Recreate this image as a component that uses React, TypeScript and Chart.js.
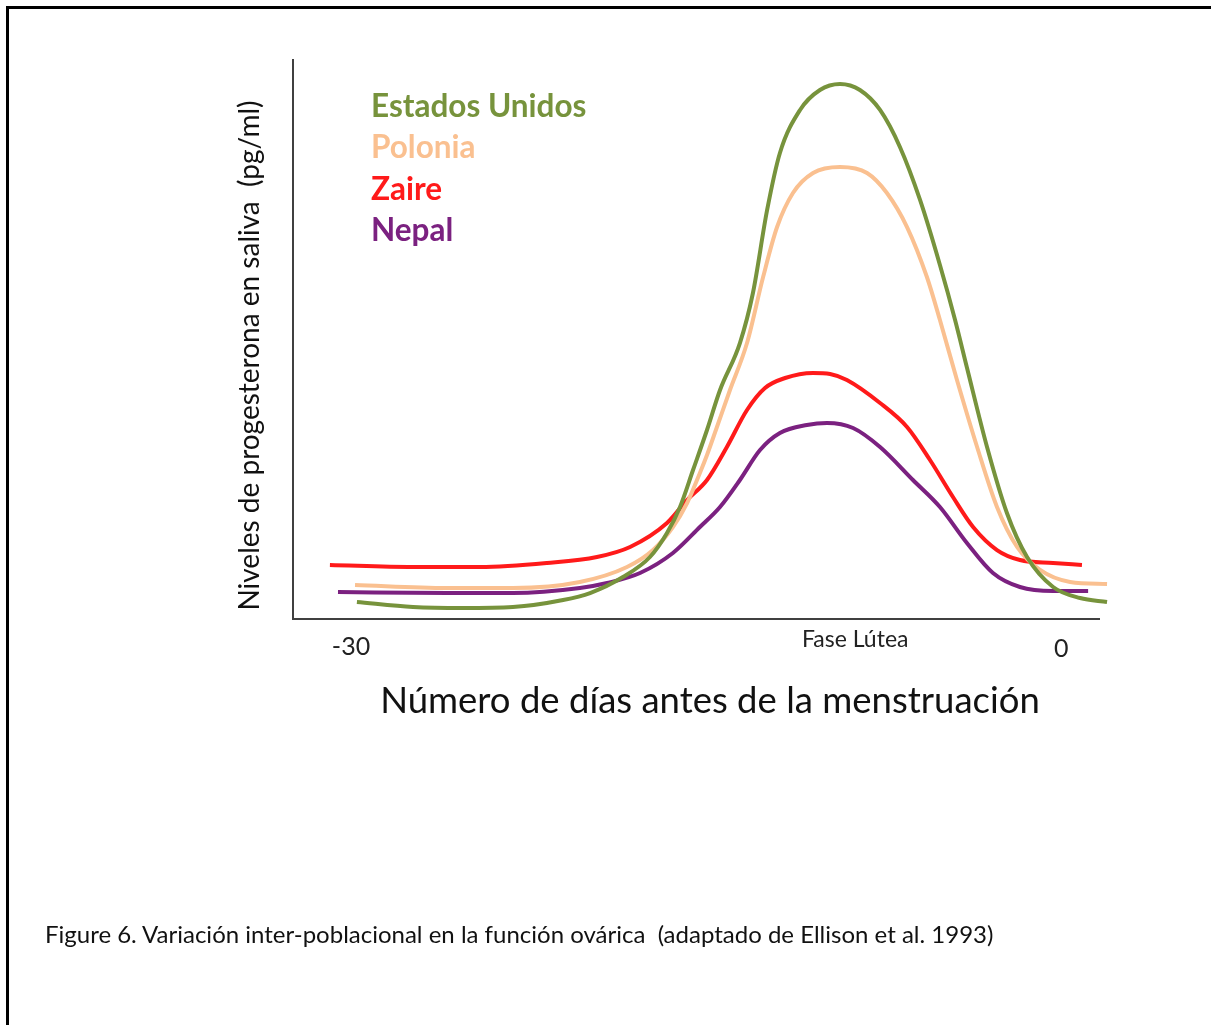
import React, { useEffect, useRef } from "react";
import { Chart, registerables } from "chart.js";

Chart.register(...registerables);

// ---------- data ----------
const seriesNames = ["Estados Unidos", "Polonia", "Zaire", "Nepal"];
const seriesColors = ["#77933C", "#FAC090", "#FF1A1A", "#7B2180"];

const usDays = [-29.75, -27.38, -25.27, -23.16, -21.04, -19.90, -18.51, -17.37, -16.65, -16.10, -15.55, -14.96, -14.41, -13.57, -13.02, -12.42, -11.88, -11.03, -10.19, -9.34, -8.50, -7.65, -6.81, -5.96, -5.12, -4.48, -3.98, -3.13, -2.29, -1.44, -0.34, 0.80, 1.94];
const usValues = [3.04, 2.15, 1.97, 2.15, 3.40, 4.65, 7.51, 11.09, 15.38, 20.04, 26.65, 33.81, 40.97, 49.37, 58.32, 73.17, 83.36, 91.06, 94.63, 95.71, 94.63, 91.06, 84.44, 74.96, 63.33, 53.49, 45.0, 30.77, 18.96, 11.09, 5.72, 3.76, 3.04];

const plDays = [-29.83, -25.94, -23.16, -20.33, -18.34, -17.24, -16.40, -15.80, -15.26, -14.96, -14.54, -13.99, -13.27, -12.59, -12.00, -11.33, -10.48, -9.34, -8.20, -7.36, -6.51, -5.67, -5.12, -4.40, -3.55, -2.71, -1.86, -0.89, 0.38, 1.94];
const plValues = [6.08, 5.55, 5.55, 6.62, 9.30, 12.34, 16.46, 20.75, 26.12, 29.34, 34.35, 40.97, 49.37, 61.18, 70.12, 76.21, 79.79, 80.86, 79.79, 76.21, 70.12, 61.18, 53.49, 42.75, 30.77, 20.04, 12.88, 8.77, 6.62, 6.26];

const zaDays = [-30.89, -27.38, -24.55, -21.72, -19.61, -18.21, -16.65, -15.80, -14.96, -14.12, -13.27, -12.51, -11.66, -10.48, -9.76, -9.05, -7.65, -6.51, -5.54, -4.57, -3.72, -2.71, -1.74, -0.34, 0.88];
const zaValues = [9.66, 9.30, 9.30, 10.02, 11.09, 12.88, 17.17, 21.29, 24.87, 30.77, 37.39, 41.32, 43.11, 44.01, 43.83, 42.75, 38.64, 34.35, 28.44, 21.82, 16.46, 12.34, 10.55, 10.02, 9.66];

const npDays = [-30.55, -25.94, -23.16, -20.33, -19.18, -17.79, -16.40, -15.26, -14.41, -13.57, -12.72, -11.88, -10.74, -9.89, -8.79, -7.65, -6.26, -5.12, -3.98, -2.88, -1.74, -0.34, 1.14];
const npValues = [4.83, 4.65, 4.65, 5.55, 6.44, 8.23, 11.81, 16.46, 20.04, 24.87, 30.23, 33.27, 34.70, 35.06, 34.17, 30.77, 24.87, 20.04, 13.60, 8.23, 5.72, 5.01, 5.01];

const tickDays = [-30, -8.7, 0];
const tickLabels = ["-30", "Fase Lútea", "0"];

const xAxisTitle = "Número de días antes de la menstruación";
const yAxisTitle = "Niveles de progesterona en saliva  (pg/ml)";
const captionText = "Figure 6. Variación inter-poblacional en la función ovárica  (adaptado de Ellison et al. 1993)";

const FONT = "Lato, 'Open Sans', sans-serif";

function toPoints(xs: number[], ys: number[]) {
  return xs.map((x, i) => ({ x, y: ys[i] }));
}

const textPlugin = {
  id: "figureText",
  afterDraw(chart: any) {
    const ctx = chart.ctx as CanvasRenderingContext2D;
    const xs = chart.scales.x;
    const area = chart.chartArea;
    ctx.save();

    // legend (series names in their colours)
    ctx.textAlign = "left";
    ctx.textBaseline = "middle";
    ctx.font = `bold 31.5px ${FONT}`;
    chart.data.datasets.forEach((ds: any, i: number) => {
      ctx.fillStyle = ds.borderColor;
      ctx.fillText(ds.label, area.left + 78, area.top + 47 + i * 41.3);
    });

    // x tick labels
    const tickFont = [25, 23, 25];
    const tickY = [647, 640, 649];
    ctx.fillStyle = "#222";
    ctx.textAlign = "center";
    tickDays.forEach((d, i) => {
      ctx.font = `${tickFont[i]}px ${FONT}`;
      ctx.fillText(tickLabels[i], xs.getPixelForValue(d), tickY[i]);
    });

    // x axis title
    ctx.fillStyle = "#111";
    ctx.font = `36.5px ${FONT}`;
    ctx.fillText(xAxisTitle, 710, 701);

    // y axis title
    ctx.translate(250, (area.top + area.bottom) / 2 + 16);
    ctx.rotate(-Math.PI / 2);
    ctx.font = `28px ${FONT}`;
    ctx.fillText(yAxisTitle, 0, 0);
    ctx.restore();
  },
};

export default function App() {
  const ref = useRef<HTMLCanvasElement | null>(null);

  useEffect(() => {
    if (!ref.current) return;
    const series = [
      toPoints(usDays, usValues),
      toPoints(plDays, plValues),
      toPoints(zaDays, zaValues),
      toPoints(npDays, npValues),
    ];
    const chart = new Chart(ref.current, {
      type: "line",
      data: {
        datasets: series.map((data, i) => ({
          label: seriesNames[i],
          data,
          borderColor: seriesColors[i],
          backgroundColor: seriesColors[i],
          borderWidth: 4,
          pointRadius: 0,
          cubicInterpolationMode: "monotone",
          fill: false,
          clip: false,
        })),
      },
      options: {
        animation: false,
        responsive: false,
        maintainAspectRatio: false,
        layout: { padding: { left: 293, top: 60, right: 112, bottom: 406 } },
        plugins: { legend: { display: false }, tooltip: { enabled: false } },
        scales: {
          x: {
            type: "linear",
            min: -32.45,
            max: 1.6,
            grid: { display: false, drawTicks: false, tickLength: 0 },
            ticks: { display: false },
            border: { display: true, color: "#404040", width: 2 },
          },
          y: {
            type: "linear",
            min: 0,
            max: 100,
            grid: { display: false, drawTicks: false, tickLength: 0 },
            ticks: { display: false },
            border: { display: true, color: "#404040", width: 2 },
          },
        },
      } as any,
      plugins: [textPlugin],
    });
    return () => chart.destroy();
  }, []);

  return (
    <div style={{ position: "absolute", left: 0, top: 0, width: 1211, height: 1025, background: "#fff", overflow: "hidden" }}>
      <div
        style={{
          position: "absolute",
          left: 6,
          top: 6,
          width: 1211,
          height: 1100,
          borderTop: "3px solid #000",
          borderLeft: "3px solid #000",
        }}
      />
      <canvas ref={ref} width={1211} height={1025} style={{ position: "absolute", left: 0, top: 0 }} />
      <div
        style={{
          position: "absolute",
          left: 45,
          top: 919,
          fontFamily: FONT,
          fontSize: 24,
          lineHeight: "30px",
          color: "#111",
          whiteSpace: "pre",
        }}
      >
        {captionText}
      </div>
    </div>
  );
}
